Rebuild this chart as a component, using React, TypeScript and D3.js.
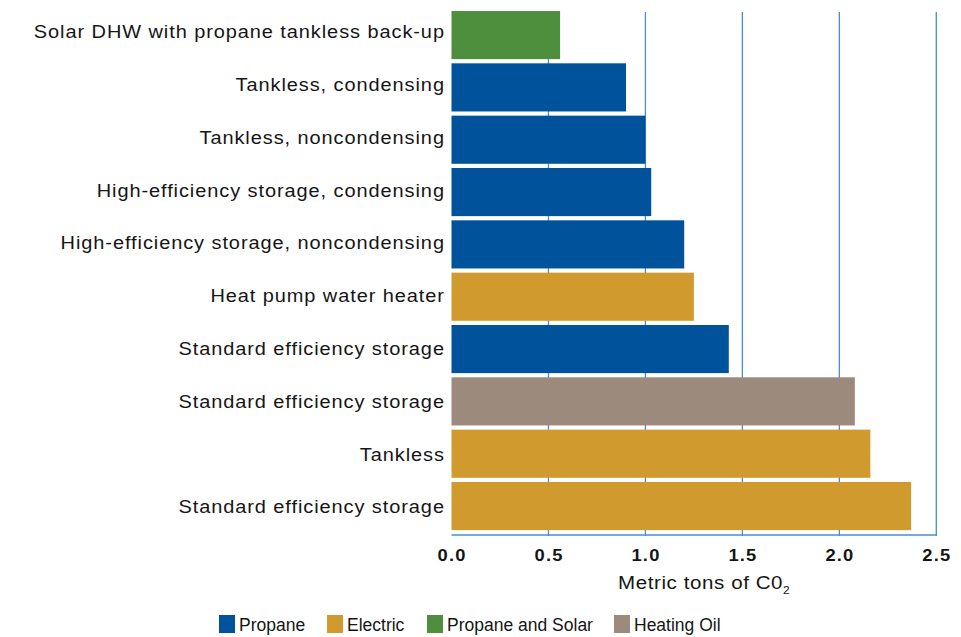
import React from "react";
import * as d3 from "d3";

// Annual CO2 emissions by water heating system
const categories = [
  "Solar DHW with propane tankless back-up",
  "Tankless, condensing",
  "Tankless, noncondensing",
  "High-efficiency storage, condensing",
  "High-efficiency storage, noncondensing",
  "Heat pump water heater",
  "Standard efficiency storage",
  "Standard efficiency storage",
  "Tankless",
  "Standard efficiency storage",
];
const values = [0.56, 0.9, 1.0, 1.03, 1.2, 1.25, 1.43, 2.08, 2.16, 2.37];
const fuels = [
  "Propane and Solar",
  "Propane",
  "Propane",
  "Propane",
  "Propane",
  "Electric",
  "Propane",
  "Heating Oil",
  "Electric",
  "Electric",
];
const legendItems = ["Propane", "Electric", "Propane and Solar", "Heating Oil"];
const legendColors = ["#00539b", "#d09a2e", "#4e8f3d", "#9c8b7c"];
const xTicks = [0, 0.5, 1, 1.5, 2, 2.5];

const W = 961;
const H = 637;
const FONT = "'Liberation Sans', Arial, Helvetica, sans-serif";
const STRETCH = 1.08; // slightly extended letterforms

export default function App() {
  const x = d3.scaleLinear().domain([0, 2.5]).range([451.5, 936.3]);
  const idx = d3.range(categories.length);
  const y = d3.scaleBand<number>().domain(idx).range([6.8, 534.3]).padding(0.08);
  // category label rows
  const yLabel = d3.scalePoint<number>().domain(idx).range([31.5, 506.7]);
  const color = d3.scaleOrdinal<string, string>().domain(legendItems).range(legendColors);
  const gridTop = 12;
  const axisY = 535;

  // legend swatch positions
  const legendX = [219, 327, 427, 614];

  return (
    <svg
      width={W}
      height={H}
      style={{ position: "absolute", left: 0, top: 0, background: "#fff" }}
      fontFamily={FONT}
    >
      {/* gridlines */}
      {xTicks.slice(1).map((t) => (
        <line
          key={"g" + t}
          x1={x(t)}
          x2={x(t)}
          y1={gridTop}
          y2={axisY + 1}
          stroke="#4a8fca"
          strokeWidth={1.3}
        />
      ))}
      <line x1={x(0)} x2={x(2.5) + 0.7} y1={axisY} y2={axisY} stroke="#4a8fca" strokeWidth={1.3} />

      {/* bars */}
      {values.map((v, i) => (
        <rect
          key={"b" + i}
          x={x(0)}
          y={y(i)}
          width={x(v) - x(0)}
          height={y.bandwidth()}
          fill={color(fuels[i])}
        />
      ))}

      {/* category labels */}
      {categories.map((c, i) => (
        <g
          key={"c" + i}
          transform={`translate(${444},${(yLabel(i) as number) + 6.6}) scale(${STRETCH},1)`}
        >
          <text x={0.85} textAnchor="end" fontSize={18.5} letterSpacing={0.85} fill="#151515">
            {c}
          </text>
        </g>
      ))}

      {/* x tick labels */}
      {xTicks.map((t) => (
        <g key={"t" + t} transform={`translate(${x(t)},561) scale(${STRETCH},1)`}>
          <text
            x={0.55}
            textAnchor="middle"
            fontSize={17}
            fontWeight="bold"
            letterSpacing={1.1}
            fill="#151515"
          >
            {t.toFixed(1)}
          </text>
        </g>
      ))}

      {/* axis title */}
      <g transform={`translate(618,589) scale(${STRETCH},1)`}>
        <text x={0} y={0} fontSize={19} letterSpacing={0.55} fill="#151515">
          Metric tons of C0
          <tspan fontSize={11} dy={5} letterSpacing={0}>2</tspan>
        </text>
      </g>

      {/* legend */}
      {legendItems.map((l, i) => (
        <g key={"l" + l} transform={`translate(${legendX[i]},615)`}>
          <rect x={0} y={0} width={16} height={18} fill={legendColors[i]} />
          <text x={20} y={16} fontSize={17.5} fill="#151515">
            {l}
          </text>
        </g>
      ))}
    </svg>
  );
}
